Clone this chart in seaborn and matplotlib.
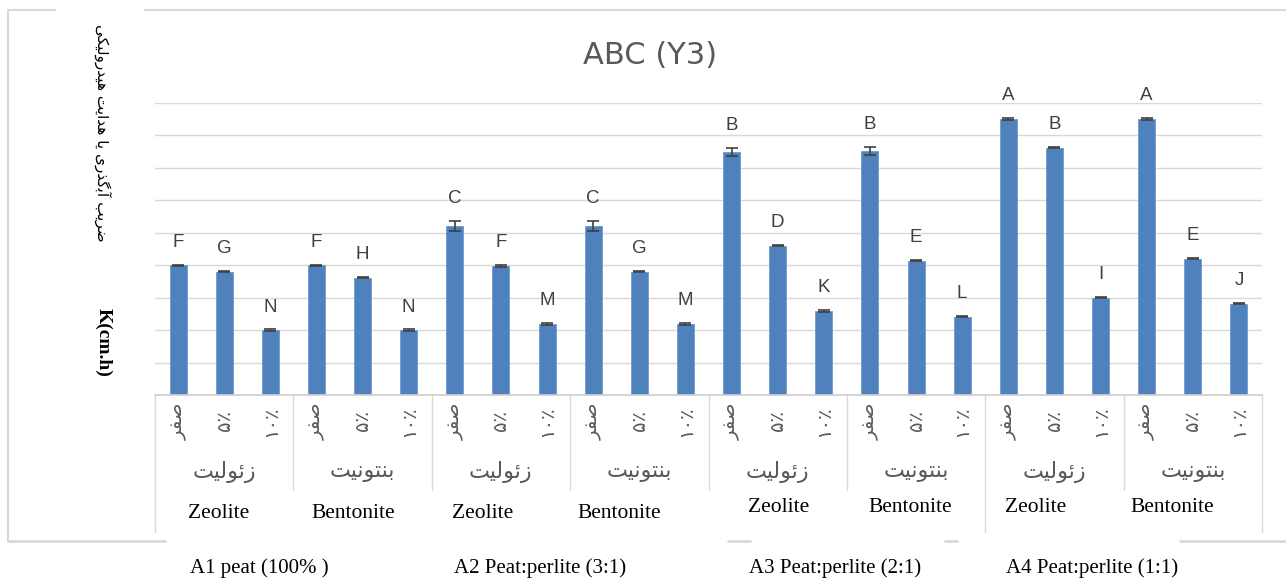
import pandas as pd
import numpy as np
import matplotlib
matplotlib.use("Agg")
import matplotlib.pyplot as plt
import matplotlib.transforms as mtransforms
from matplotlib.lines import Line2D
import seaborn as sns

sns.set_theme(style="white")
plt.rcParams["font.family"] = ["DejaVu Sans"]

# Persian strings are written in visual order with Arabic presentation forms,
# since matplotlib does no shaping / bidi.
zeolite_fa = "\uFE96\uFBFF\uFEDF\uFEEE\uFE8B\uFEAF"            # زئولیت
bentonite_fa = "\uFE96\uFBFF\uFEE7\uFEEE\uFE98\uFEE8\uFE91"    # بنتونیت
ylabel_fa = ("\uFBFD\uFB91\uFBFF\uFEDF\uFEED\uFEAD\uFEAA\uFBFF\uFEEB" + " " +   # هیدرولیکی
             "\uFE96\uFBFE\uFE8D\uFEAA\uFEEB" + " " +                          # هدایت
             "\uFE8E\uFBFE" + " " +                                            # یا
             "\uFBFC\uFEAD\uFEAC\uFB94\uFE91\uFE81" + " " +                    # آبگذری
             "\uFE90\uFBFE\uFEAE\uFEBF")                                       # ضریب

levels = ["\uFEAE\uFED4\uFEBB", "\u06F5\u066A", "\u06F1\u06F0\u066A"]   # صفر ، ۵٪ ، ۱۰٪
adsorbents_fa = [zeolite_fa, bentonite_fa]
adsorbents_en = ["Zeolite", "Bentonite"]
substrates = ["A1 peat (100% )", "A2 Peat:perlite (3:1)", "A3 Peat:perlite (2:1)", "A4 Peat:perlite (1:1)"]

# K values, order: substrate -> adsorbent -> level
k_a1 = [4.00, 3.80, 2.00, 4.00, 3.62, 2.00]
k_a2 = [5.22, 3.98, 2.19, 5.22, 3.80, 2.19]
k_a3 = [7.49, 4.60, 2.59, 7.52, 4.14, 2.41]
k_a4 = [8.52, 7.62, 3.00, 8.52, 4.20, 2.81]
err_a1 = [0.02, 0.02, 0.02, 0.02, 0.02, 0.02]
err_a2 = [0.15, 0.02, 0.02, 0.15, 0.02, 0.02]
err_a3 = [0.12, 0.02, 0.02, 0.13, 0.02, 0.02]
err_a4 = [0.03, 0.02, 0.02, 0.03, 0.02, 0.02]
letters_a1 = ["F", "G", "N", "F", "H", "N"]
letters_a2 = ["C", "F", "M", "C", "G", "M"]
letters_a3 = ["B", "D", "K", "B", "E", "L"]
letters_a4 = ["A", "B", "I", "A", "E", "J"]

df = pd.DataFrame({
    "k": k_a1 + k_a2 + k_a3 + k_a4,
    "err": err_a1 + err_a2 + err_a3 + err_a4,
    "letter": letters_a1 + letters_a2 + letters_a3 + letters_a4,
})
df["substrate"] = np.repeat(substrates, 6)
df["adsorbent"] = np.tile(np.repeat(adsorbents_en, 3), 4)
df["level"] = np.tile(levels, 8)
df["pos"] = [str(i) for i in range(len(df))]

W, H = 1286, 579
fig = plt.figure(figsize=(W / 100, H / 100), dpi=100)
ax = fig.add_axes([155 / W, 1 - 395 / H, (1262 - 155) / W, (395 - 103) / H])

sns.barplot(df, x="pos", y="k", color="#4f81bd", saturation=1, width=0.37,
            edgecolor="#6f9bd0", linewidth=0.6, ax=ax)
xs = np.arange(len(df))
ax.errorbar(xs, df["k"], yerr=df["err"], fmt="none", ecolor="#404040",
            elinewidth=1.2, capsize=4.5, capthick=1.2, zorder=3)
for x, v, e, lab in zip(xs, df["k"], df["err"], df["letter"]):
    ax.annotate(lab, (x, v + e), xytext=(0, 10), textcoords="offset points",
                ha="center", va="bottom", fontsize=13.5, color="#404040",
                family="Liberation Sans", annotation_clip=False)

ax.set_xlim(-0.5, len(df) - 0.5)
ax.set_ylim(0, 9)
ax.set_yticks(range(1, 10))
ax.yaxis.grid(True, color="#d9d9d9", linewidth=1)
ax.set_axisbelow(True)
ax.set_yticklabels([])
ax.set_xticks([])
ax.set(xlabel="", ylabel="")
for s in ["top", "left", "right"]:
    ax.spines[s].set_visible(False)
ax.spines["bottom"].set_color("#d0d0d0")
ax.tick_params(left=False, bottom=False)

# category table under the bars
tr = mtransforms.blended_transform_factory(ax.transData, fig.transFigure)
y0 = 1 - 395 / H
y_inner = 1 - 490 / H
y_outer = 1 - 532 / H
for sep in np.arange(-0.5, len(df), 3):
    long_sep = sep in (-0.5, 17.5, 23.5)
    ax.add_line(Line2D([sep, sep], [y0, y_outer if long_sep else y_inner], transform=tr,
                       color="#d9d9d9", lw=1, clip_on=False))

for x, lev in zip(xs, df["level"]):
    ax.text(x, 1 - 421 / H, lev, transform=tr, rotation=90, ha="center", va="center",
            fontsize=14, color="#595959")

# the English labels sit in hand-placed text boxes in the original
en_shift = [-0.13, -0.2, -0.4, -0.43, 0.02, -0.13, -0.41, -0.45]
en_y = [514, 514, 514, 514, 508, 508, 508, 508]
for g in range(8):
    cx = g * 3 + 1
    ax.text(cx, 1 - 472 / H, adsorbents_fa[g % 2], transform=tr, ha="center", va="center",
            fontsize=16, color="#595959")
    ax.text(cx + en_shift[g], 1 - en_y[g] / H, adsorbents_en[g % 2], transform=tr,
            ha="center", va="center", fontsize=15.5, color="black", family="Liberation Serif")

sub_shift = [0.76, 0.48, 0.87, 0.46]
for a, name in enumerate(substrates):
    ax.text(a * 6 - 0.5 + sub_shift[a], 1 - 568 / H, name, transform=tr, ha="left", va="center",
            fontsize=15, color="black", family="Liberation Serif")

# title and y label
fig.text(650 / W, 1 - 55 / H, "ABC (Y3)", ha="center", va="center", fontsize=22, color="#595959")
fig.text(103 / W, 1 - 133 / H, ylabel_fa, rotation=-90, ha="center", va="center",
         fontsize=11, color="black")
fig.text(103 / W, 1 - 342 / H, "K(cm.h)", rotation=-90, ha="center", va="center",
         fontsize=14, fontweight="bold", color="black", family="Liberation Serif")

# chart border (partly hidden by the text boxes)
border = "#d9d9d9"
fy_top = 1 - 10 / H
fy_bot = 1 - 541 / H
fx_left = 8 / W
for xa, xb in [(8, 55), (145, W)]:
    fig.add_artist(Line2D([xa / W, xb / W], [fy_top, fy_top], color=border, lw=1.5))
for xa, xb in [(8, 165), (728, 750), (945, 957), (1180, W)]:
    fig.add_artist(Line2D([xa / W, xb / W], [fy_bot, fy_bot], color=border, lw=2))
fig.add_artist(Line2D([fx_left, fx_left], [fy_bot, fy_top], color=border, lw=1.5))

fig.savefig("out.png", dpi=100)
